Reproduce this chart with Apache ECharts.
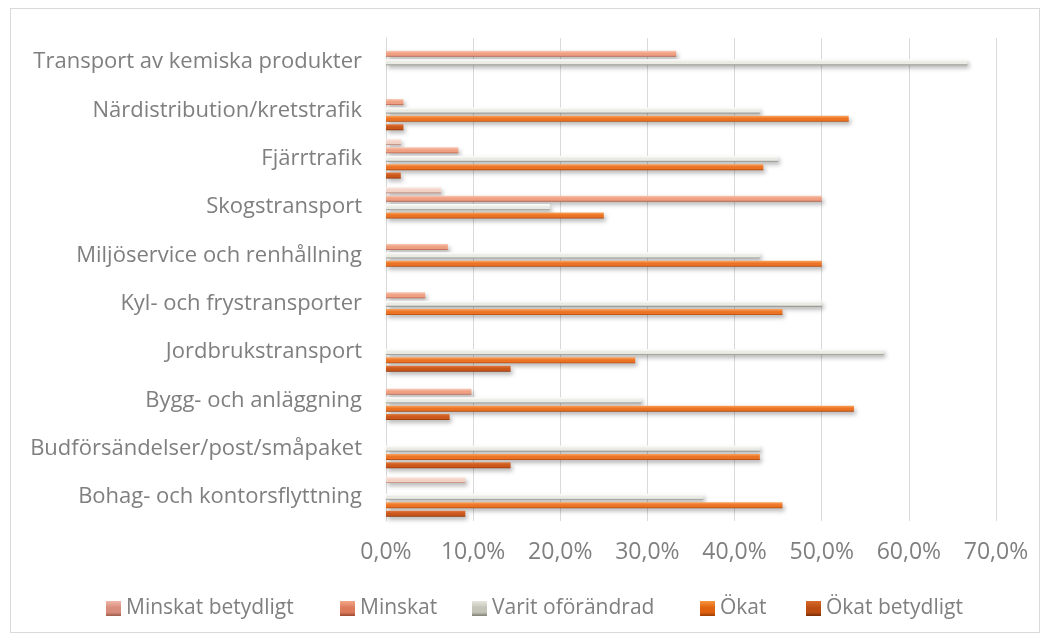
<!DOCTYPE html>
<html>
<head>
<meta charset="utf-8">
<script src="https://cdn.jsdelivr.net/npm/echarts@6/dist/echarts.min.js"></script>
<style>
html,body{margin:0;padding:0;background:#fff;}
#frame{position:absolute;left:10px;top:8px;width:1028px;height:623px;border:1px solid #d9d9d9;}
#chart{position:absolute;left:0;top:0;width:1049px;height:640px;}
</style>
</head>
<body>
<div id="frame"></div>
<div id="chart"></div>
<script>
const categories = [
  'Transport av kemiska produkter',
  'Närdistribution/kretstrafik',
  'Fjärrtrafik',
  'Skogstransport',
  'Miljöservice och renhållning',
  'Kyl- och frystransporter',
  'Jordbrukstransport',
  'Bygg- och anläggning',
  'Budförsändelser/post/småpaket',
  'Bohag- och kontorsflyttning'
];
const seriesNames = ['Minskat betydligt', 'Minskat', 'Varit oförändrad', 'Ökat', 'Ökat betydligt'];
const minskatBetydligt = [null, null, 1.7, 6.3, null, null, null, null, null, 9.1];
const minskat          = [33.3, 2.0, 8.3, 50.0, 7.1, 4.5, null, 9.8, null, null];
const varitOforandrad  = [66.7, 42.9, 45.0, 18.8, 42.9, 50.0, 57.1, 29.3, 42.9, 36.4];
const okat             = [null, 53.1, 43.3, 25.0, 50.0, 45.5, 28.6, 53.7, 42.9, 45.5];
const okatBetydligt    = [null, 2.0, 1.7, null, null, null, 14.3, 7.3, 14.3, 9.1];
const xTicks = [0, 10, 20, 30, 40, 50, 60, 70];

const palettes = [
  ['#fcece6', '#f3d2c6', '#b47a6a'],
  ['#fac8b2', '#ef9f82', '#ad5f47'],
  ['#ffffff', '#ebebe5', '#878780'],
  ['#f9a45e', '#ed7324', '#a6470f'],
  ['#e07a3e', '#cc571b', '#873108']
];
const legendIconPalettes = [
  ['#f0b7a8', '#d98d7c', '#9c5c4c'],
  ['#f4a688', '#dc7a5c', '#9b4a32'],
  ['#e6e6de', '#c4c4b8', '#808076'],
  ['#f7953f', '#e0620f', '#9a3e06'],
  ['#d8692a', '#bb4d12', '#7a2c06']
];
const legendLefts = [106, 340, 472, 700, 806];
const dataSets = [minskatBetydligt, minskat, varitOforandrad, okat, okatBetydligt];

function grad(p) {
  return new echarts.graphic.LinearGradient(0, 0, 0, 1, [
    {offset: 0, color: p[0]},
    {offset: 0.45, color: p[1]},
    {offset: 0.75, color: p[1]},
    {offset: 1, color: p[2]}
  ]);
}

const FONT = '"Open Sans", sans-serif';
const chart = echarts.init(document.getElementById('chart'), null, {renderer: 'canvas'});
const option = {
  animation: false,
  backgroundColor: 'transparent',
  textStyle: {fontFamily: FONT},
  grid: {left: 386, right: 53, top: 38, bottom: 119, containLabel: false},
  legend: seriesNames.map((name, i) => ({
    data: [{name: name, itemStyle: {color: grad(legendIconPalettes[i])}}],
    left: legendLefts[i],
    top: 598,
    padding: 0,
    itemWidth: 15,
    itemHeight: 15,
    icon: 'rect',
    textStyle: {color: '#7f7f7f', fontSize: 21, fontFamily: FONT}
  })),
  xAxis: {
    type: 'value',
    min: xTicks[0],
    max: xTicks[xTicks.length - 1],
    interval: 10,
    axisLine: {show: false},
    axisTick: {show: false},
    splitLine: {lineStyle: {color: '#d9d9d9', width: 1}},
    axisLabel: {
      color: '#7f7f7f', fontSize: 23, fontFamily: FONT, margin: 20,
      formatter: v => v.toFixed(1).replace('.', ',') + '%'
    }
  },
  yAxis: {
    type: 'category',
    inverse: true,
    data: categories,
    axisLine: {show: true, lineStyle: {color: '#d9d9d9', width: 1}},
    axisTick: {show: false},
    axisLabel: {color: '#7f7f7f', fontSize: 22, fontFamily: FONT, margin: 24}
  },
  series: seriesNames.map((name, i) => ({
    name: name,
    type: 'bar',
    data: dataSets[i],
    barWidth: 6,
    barGap: '40%',
    itemStyle: {
      color: grad(palettes[i]),
      shadowColor: 'rgba(0,0,0,0.28)',
      shadowBlur: 4,
      shadowOffsetX: 2,
      shadowOffsetY: 3
    }
  }))
};
chart.setOption(option);
</script>
</body>
</html>
